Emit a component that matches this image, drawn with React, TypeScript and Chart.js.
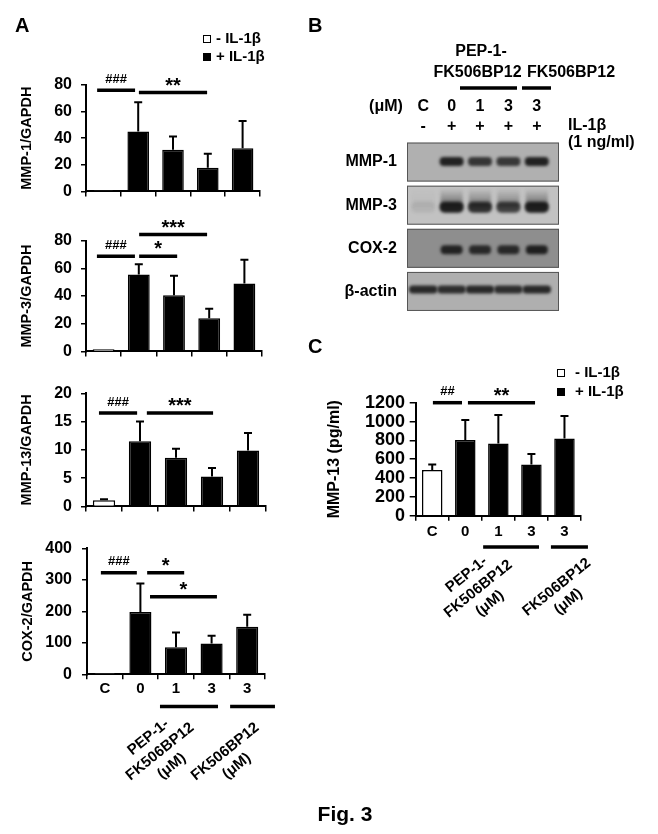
import React, { useEffect, useRef } from 'react';
import { Chart, registerables } from 'chart.js';

Chart.register(...registerables);

const FONT = 'Arial, "Liberation Sans", Helvetica, sans-serif';

// ---------------- data ----------------
const xGroups = ['C', '0', '1', '3', '3'];
const barFill = ['#ffffff', '#000000', '#000000', '#000000', '#000000'];
const legendLabels = ['- IL-1β', '+ IL-1β'];
const groupTitles = [['PEP-1-', 'FK506BP12', '(μM)'], ['FK506BP12', '(μM)']];

const mmp1Ticks = [0, 20, 40, 60, 80];
const mmp1Mean = [0.7, 45, 31.3, 17.7, 32.5];
const mmp1Err = [0, 22, 10, 10.6, 20.5];
const mmp1Sig = [
  { from: -0.18, to: 0.91, y: 76, label: '###' },
  { from: 1.02, to: 2.98, y: 74.3, label: '**' },
];

const mmp3Ticks = [0, 20, 40, 60, 80];
const mmp3Mean = [1.5, 55.5, 40.5, 24, 49];
const mmp3Err = [0, 7.5, 14.2, 6.8, 17.3];
const mmp3Sig = [
  { from: -0.19, to: 0.89, y: 68.8, label: '###' },
  { from: 1.01, to: 2.09, y: 68.8, label: '*' },
  { from: 1.01, to: 2.94, y: 84.4, label: '***' },
];

const mmp13Ticks = [0, 5, 10, 15, 20];
const mmp13Mean = [1.1, 11.5, 8.6, 5.3, 9.9];
const mmp13Err = [0.15, 3.5, 1.6, 1.5, 3.1];
const mmp13Sig = [
  { from: -0.14, to: 0.92, y: 16.5, label: '###' },
  { from: 1.19, to: 3.03, y: 16.5, label: '***' },
];

const cox2Ticks = [0, 100, 200, 300, 400];
const cox2Mean = [4, 198, 86, 98, 151];
const cox2Err = [0, 90, 47, 24, 38];
const cox2Sig = [
  { from: -0.11, to: 0.9, y: 322, label: '###' },
  { from: 1.19, to: 2.23, y: 322, label: '*' },
  { from: 1.27, to: 3.15, y: 246, label: '*' },
];

const pgTicks = [0, 200, 400, 600, 800, 1000, 1200];
const pgMean = [485, 803, 768, 545, 821];
const pgErr = [60, 213, 302, 110, 237];
const pgSig = [
  { from: 0.02, to: 0.9, y: 1200, label: '##' },
  { from: 1.08, to: 3.11, y: 1200, label: '**' },
];

// western blot (panel B): relative band intensities per lane
const blotLanes = ['C', '0', '1', '3', '3'];
const blotTreatment = ['-', '+', '+', '+', '+'];
const blotProteins = ['MMP-1', 'MMP-3', 'COX-2', 'β-actin'];
const mmp1Band = [0.0, 0.92, 0.8, 0.78, 0.92];
const mmp3Band = [0.08, 0.95, 0.85, 0.75, 0.95];
const cox2Band = [0.0, 0.9, 0.85, 0.85, 0.92];
const actinBand = [0.88, 0.85, 0.88, 0.85, 0.88];

// ---------------- helpers ----------------
type Box = { x: number; y: number; w: number; h: number };
type Area = { l: number; t: number; r: number; b: number };
type Sig = { from: number; to: number; y: number; label: string };

function txt(
  ctx: CanvasRenderingContext2D,
  s: string,
  x: number,
  y: number,
  size: number,
  align: CanvasTextAlign = 'center',
  baseline: CanvasTextBaseline = 'middle',
) {
  ctx.font = `bold ${size}px ${FONT}`;
  ctx.textAlign = align;
  ctx.textBaseline = baseline;
  ctx.fillStyle = '#000';
  ctx.fillText(s, x, y);
}

function hline(ctx: CanvasRenderingContext2D, x1: number, x2: number, y: number, w = 3.5) {
  ctx.save();
  ctx.strokeStyle = '#000';
  ctx.lineWidth = w;
  ctx.lineCap = 'butt';
  ctx.beginPath();
  ctx.moveTo(x1, y);
  ctx.lineTo(x2, y);
  ctx.stroke();
  ctx.restore();
}

function drawGroup(
  ctx: CanvasRenderingContext2D,
  lines: string[],
  mid: number,
  cx: number,
  cy: number,
  angle: number,
  size: number,
  gap: number,
) {
  ctx.save();
  ctx.translate(cx, cy);
  ctx.rotate((angle * Math.PI) / 180);
  lines.forEach((l, k) => txt(ctx, l, 0, (k - mid) * gap, size));
  ctx.restore();
}

function drawLegend(ctx: CanvasRenderingContext2D, sx: number, tx: number, y1: number, y2: number) {
  ctx.save();
  ctx.strokeStyle = '#000';
  ctx.lineWidth = 1;
  ctx.fillStyle = '#fff';
  ctx.fillRect(sx, y1 - 4, 8, 8);
  ctx.strokeRect(sx + 0.5, y1 - 3.5, 7, 7);
  ctx.fillStyle = '#000';
  ctx.fillRect(sx, y2 - 4, 8, 8);
  ctx.restore();
  txt(ctx, legendLabels[0], tx, y1, 15, 'left');
  txt(ctx, legendLabels[1], tx, y2, 15, 'left');
}

interface Spec {
  box: Box;
  area: Area;
  means: number[];
  errs: number[];
  ticks: number[];
  sigs: Sig[];
  title: string;
  titleSize: number;
  titleCenterX: number;
  tickSize: number;
  tickRightX: number;
  tickLen: number;
  showX: boolean;
  xPad: number;
  after?: (ctx: CanvasRenderingContext2D, px: (v: number) => number, axisY: number) => void;
}

function makeBarChart(canvas: HTMLCanvasElement, s: Spec) {
  const yW = s.area.l - s.box.x;
  const xH = s.box.y + s.box.h - s.area.b;
  const titleLH = s.titleSize * 1.2;
  return new Chart(canvas, {
    type: 'bar',
    data: {
      labels: xGroups,
      datasets: [
        {
          data: s.means,
          backgroundColor: barFill,
          borderColor: '#000',
          borderWidth: 1.5,
          barPercentage: 0.62,
          categoryPercentage: 1,
        },
      ],
    },
    options: {
      animation: false,
      responsive: false,
      maintainAspectRatio: false,
      devicePixelRatio: 1,
      layout: {
        padding: { left: 0, top: s.area.t - s.box.y, right: s.box.x + s.box.w - s.area.r, bottom: 0 },
      },
      plugins: { legend: { display: false }, tooltip: { enabled: false }, title: { display: false } },
      scales: {
        x: {
          type: 'category',
          offset: true,
          grid: { offset: true, drawOnChartArea: false, drawTicks: true, tickLength: 5, color: '#000', lineWidth: 1.5 },
          border: { display: true, color: '#000', width: 2 },
          ticks: {
            display: s.showX,
            color: '#000',
            font: { family: FONT, size: 15, weight: 'bold' },
            padding: s.xPad,
            maxRotation: 0,
            minRotation: 0,
            autoSkip: false,
          },
          afterFit: (sc: any) => {
            sc.height = xH;
          },
        },
        y: {
          type: 'linear',
          min: s.ticks[0],
          max: s.ticks[s.ticks.length - 1],
          afterBuildTicks: (sc: any) => {
            sc.ticks = s.ticks.map((v) => ({ value: v }));
          },
          grid: { drawOnChartArea: false, drawTicks: true, tickLength: s.tickLen, color: '#000', lineWidth: 1.5 },
          border: { display: true, color: '#000', width: 2 },
          ticks: {
            color: '#000',
            font: { family: FONT, size: s.tickSize, weight: 'bold' },
            padding: s.area.l - s.tickLen - s.tickRightX,
            autoSkip: false,
            callback: (v: any) => String(v),
          },
          title: {
            display: true,
            text: s.title,
            color: '#000',
            font: { family: FONT, size: s.titleSize, weight: 'bold' },
            padding: { top: s.titleCenterX - s.box.x - titleLH / 2, bottom: 0 },
          },
          afterFit: (sc: any) => {
            sc.width = yW;
          },
        },
      },
    },
    plugins: [
      {
        id: 'annot',
        afterDatasetsDraw(chart: any) {
          const ctx: CanvasRenderingContext2D = chart.ctx;
          const xs = chart.scales.x;
          const ys = chart.scales.y;
          ctx.save();
          ctx.strokeStyle = '#000';
          ctx.lineWidth = 2;
          s.means.forEach((m, i) => {
            const e = s.errs[i];
            if (!e) return;
            const cx = xs.getPixelForValue(i);
            const y0 = ys.getPixelForValue(m);
            const y1 = ys.getPixelForValue(m + e);
            ctx.beginPath();
            ctx.moveTo(cx, y0);
            ctx.lineTo(cx, y1);
            ctx.moveTo(cx - 4, y1);
            ctx.lineTo(cx + 4, y1);
            ctx.stroke();
          });
          s.sigs.forEach((g) => {
            const x1 = xs.getPixelForValue(g.from);
            const x2 = xs.getPixelForValue(g.to);
            const yy = ys.getPixelForValue(g.y);
            hline(ctx, x1, x2, yy);
            const mx = (x1 + x2) / 2;
            if (g.label.startsWith('#')) txt(ctx, g.label, mx, yy - 7.5, 13, 'center', 'alphabetic');
            else txt(ctx, g.label, mx, yy - 1, 20, 'center', 'alphabetic');
          });
          ctx.restore();
        },
        afterDraw(chart: any) {
          if (!s.after) return;
          const ctx: CanvasRenderingContext2D = chart.ctx;
          const xs = chart.scales.x;
          ctx.save();
          ctx.translate(-s.box.x, -s.box.y);
          s.after(ctx, (v: number) => xs.getPixelForValue(v) + s.box.x, s.area.b);
          ctx.restore();
        },
      },
    ],
  } as any);
}

const specA1: Spec = {
  box: { x: 0, y: 0, w: 300, h: 210 },
  area: { l: 86, t: 85, r: 260, b: 193.3 },
  means: mmp1Mean, errs: mmp1Err, ticks: mmp1Ticks, sigs: mmp1Sig,
  title: 'MMP-1/GAPDH', titleSize: 14.5, titleCenterX: 26.5,
  tickSize: 16, tickRightX: 72, tickLen: 5, showX: false, xPad: 0,
  after: (ctx) => {
    txt(ctx, 'A', 15, 32, 20, 'left', 'alphabetic');
    drawLegend(ctx, 203, 216, 39, 57);
  },
};
const specA2: Spec = {
  box: { x: 0, y: 210, w: 300, h: 160 },
  area: { l: 86, t: 240.7, r: 262, b: 361.7 },
  means: mmp3Mean, errs: mmp3Err, ticks: mmp3Ticks, sigs: mmp3Sig,
  title: 'MMP-3/GAPDH', titleSize: 14.5, titleCenterX: 27,
  tickSize: 16, tickRightX: 72, tickLen: 5, showX: false, xPad: 0,
};
const specA3: Spec = {
  box: { x: 0, y: 370, w: 300, h: 155 },
  area: { l: 86, t: 393.3, r: 266, b: 516 },
  means: mmp13Mean, errs: mmp13Err, ticks: mmp13Ticks, sigs: mmp13Sig,
  title: 'MMP-13/GAPDH', titleSize: 14.5, titleCenterX: 27,
  tickSize: 16, tickRightX: 72, tickLen: 5, showX: false, xPad: 0,
};
const specA4: Spec = {
  box: { x: 0, y: 525, w: 300, h: 270 },
  area: { l: 87, t: 548.3, r: 265, b: 674.3 },
  means: cox2Mean, errs: cox2Err, ticks: cox2Ticks, sigs: cox2Sig,
  title: 'COX-2/GAPDH', titleSize: 14.5, titleCenterX: 27.5,
  tickSize: 16, tickRightX: 72, tickLen: 5, showX: true, xPad: 0.5,
  after: (ctx, px, axisY) => {
    hline(ctx, px(1.55), px(3.18), axisY + 32.2);
    hline(ctx, px(3.52), px(4.78), axisY + 32.2);
    drawGroup(ctx, groupTitles[0], 1, px(1.55), axisY + 77.4, -39, 15, 18.5);
    drawGroup(ctx, groupTitles[1], 0, px(3.38), axisY + 77.4, -39, 15, 18.5);
  },
};
const specC: Spec = {
  box: { x: 300, y: 320, w: 358, h: 514 },
  area: { l: 415.7, t: 402.7, r: 581, b: 515.7 },
  means: pgMean, errs: pgErr, ticks: pgTicks, sigs: pgSig,
  title: 'MMP-13 (pg/ml)', titleSize: 16, titleCenterX: 335,
  tickSize: 18, tickRightX: 405, tickLen: 6, showX: true, xPad: 2,
  after: (ctx, px, axisY) => {
    txt(ctx, 'C', 308, 352.5, 20, 'left', 'alphabetic');
    drawLegend(ctx, 557, 575, 373, 392);
    hline(ctx, px(1.54), px(3.23), axisY + 31.3);
    hline(ctx, px(3.59), px(4.71), axisY + 31.3);
    drawGroup(ctx, groupTitles[0], 1, px(1.39), axisY + 73.3, -39, 15, 18.5);
    drawGroup(ctx, groupTitles[1], 0, px(3.765), axisY + 71.6, -39, 15, 18.5);
    txt(ctx, 'Fig. 3', 345, 821, 21, 'center', 'alphabetic');
  },
};

const blotBox: Box = { x: 300, y: 0, w: 358, h: 320 };
const blotArea: Area = { l: 409, t: 140.5, r: 551, b: 313 };
const blotRows = [mmp1Band, mmp3Band, cox2Band, actinBand];
const blotRowStyle = [
  { bg: '#b0b0b0', w: 24, h: 9, dy: -0.5, smear: 0 },
  { bg: '#c2c2c2', w: 24, h: 11, dy: 2, smear: 13 },
  { bg: '#8e8e8e', w: 22, h: 9, dy: 1.5, smear: 0 },
  { bg: '#afafaf', w: 28.4, h: 8, dy: -2, smear: 0 },
];

function makeBlot(canvas: HTMLCanvasElement) {
  const b = blotBox;
  const a = blotArea;
  return new Chart(canvas, {
    type: 'scatter',
    data: { datasets: [{ data: [] }] },
    options: {
      animation: false,
      responsive: false,
      maintainAspectRatio: false,
      devicePixelRatio: 1,
      layout: { padding: { left: a.l - b.x, top: a.t - b.y, right: b.x + b.w - a.r, bottom: b.y + b.h - a.b } },
      plugins: { legend: { display: false }, tooltip: { enabled: false } },
      scales: {
        x: { type: 'category', labels: blotLanes, offset: true, display: false },
        y: { type: 'category', labels: blotProteins, offset: true, display: false },
      },
    },
    plugins: [
      {
        id: 'blot',
        afterDraw(chart: any) {
          const ctx: CanvasRenderingContext2D = chart.ctx;
          const xs = chart.scales.x;
          const ys = chart.scales.y;
          ctx.save();
          ctx.translate(-b.x, -b.y);
          const px = (i: number) => xs.getPixelForValue(i) + b.x;
          const py = (j: number) => ys.getPixelForValue(j) + b.y;

          txt(ctx, 'B', 308, 32, 20, 'left', 'alphabetic');
          txt(ctx, 'PEP-1-', 481, 52, 16);
          txt(ctx, 'FK506BP12', 477.5, 73, 16);
          txt(ctx, 'FK506BP12', 571, 73, 16);
          hline(ctx, 460, 517, 88);
          hline(ctx, 522, 551, 88);
          txt(ctx, '(μM)', 386, 107, 16);
          blotLanes.forEach((l, i) => txt(ctx, l, px(i), 107, 16));
          blotTreatment.forEach((l, i) => txt(ctx, l, px(i), 127, 16));
          txt(ctx, 'IL-1β', 568, 126, 16, 'left');
          txt(ctx, '(1 ng/ml)', 568, 143, 16, 'left');

          const bl = xs.left + b.x - 2;
          const br = xs.right + b.x + 8;
          blotRows.forEach((vals, j) => {
            const st = blotRowStyle[j];
            const cyc = py(j);
            const top = cyc - 19.5;
            ctx.fillStyle = st.bg;
            ctx.fillRect(bl, top, br - bl, 39);
            ctx.save();
            ctx.beginPath();
            ctx.rect(bl, top, br - bl, 39);
            ctx.clip();
            ctx.filter = 'blur(1.6px)';
            vals.forEach((v, i) => {
              if (v <= 0) return;
              const cx = px(i);
              const cy = cyc + st.dy;
              if (st.smear) {
                const g = ctx.createLinearGradient(0, cy - st.h / 2 - st.smear, 0, cy);
                g.addColorStop(0, 'rgba(30,30,30,0)');
                g.addColorStop(1, `rgba(30,30,30,${v * 0.6})`);
                ctx.fillStyle = g;
                ctx.fillRect(cx - st.w / 2 + 1, cy - st.h / 2 - st.smear, st.w - 2, st.smear + st.h / 2);
              }
              ctx.fillStyle = `rgba(22,22,22,${v})`;
              ctx.beginPath();
              (ctx as any).roundRect(cx - st.w / 2, cy - st.h / 2, st.w, st.h, st.h / 2.2);
              ctx.fill();
            });
            ctx.filter = 'none';
            ctx.restore();
            ctx.strokeStyle = '#555';
            ctx.lineWidth = 1;
            ctx.strokeRect(bl + 0.5, top + 0.5, br - bl - 1, 38);
            txt(ctx, blotProteins[j], 397, cyc, 16, 'right');
          });
          ctx.restore();
        },
      },
    ],
  } as any);
}

const specs = [specA1, specA2, specA3, specA4, specC];

export default function App() {
  const refs = useRef<(HTMLCanvasElement | null)[]>([]);
  const blotRef = useRef<HTMLCanvasElement | null>(null);

  useEffect(() => {
    const charts: Chart[] = [];
    specs.forEach((s, i) => {
      const c = refs.current[i];
      if (c) charts.push(makeBarChart(c, s));
    });
    if (blotRef.current) charts.push(makeBlot(blotRef.current));
    return () => charts.forEach((c) => c.destroy());
  }, []);

  return (
    <div style={{ position: 'absolute', left: 0, top: 0, width: 658, height: 834, background: '#fff', overflow: 'hidden' }}>
      {specs.map((s, i) => (
        <canvas
          key={i}
          ref={(el) => {
            refs.current[i] = el;
          }}
          width={s.box.w}
          height={s.box.h}
          style={{ position: 'absolute', left: s.box.x, top: s.box.y, width: s.box.w, height: s.box.h }}
        />
      ))}
      <canvas
        ref={blotRef}
        width={blotBox.w}
        height={blotBox.h}
        style={{ position: 'absolute', left: blotBox.x, top: blotBox.y, width: blotBox.w, height: blotBox.h }}
      />
    </div>
  );
}
